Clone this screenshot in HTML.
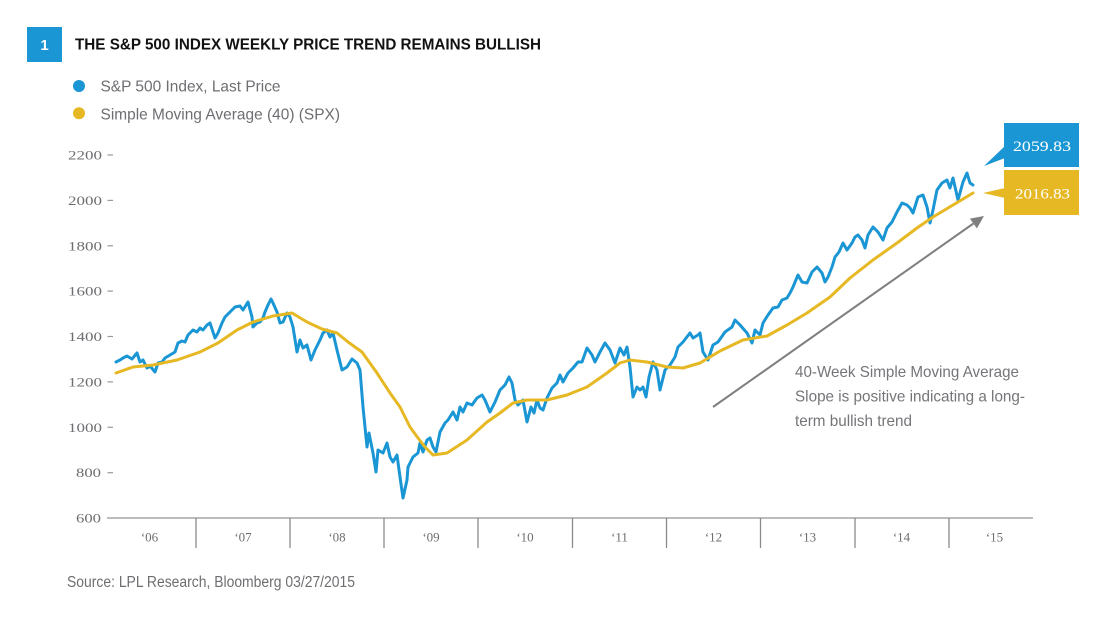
<!DOCTYPE html>
<html><head><meta charset="utf-8"><style>
html,body{margin:0;padding:0;background:#fff;}
svg{display:block;}
</style></head><body>
<svg width="1107" height="634" viewBox="0 0 1107 634" xmlns="http://www.w3.org/2000/svg">
<rect x="0" y="0" width="1107" height="634" fill="#ffffff"/>
<!-- header -->
<rect x="27" y="27" width="35" height="35" fill="#1a96d4"/>
<text x="44.5" y="50" text-anchor="middle" font-family="Liberation Sans, sans-serif" font-weight="bold" font-size="15" fill="#ffffff">1</text>
<text x="75" y="49.5" font-family="Liberation Sans, sans-serif" font-weight="bold" font-size="15.5" fill="#111111" textLength="466" lengthAdjust="spacingAndGlyphs">THE S&amp;P 500 INDEX WEEKLY PRICE TREND REMAINS BULLISH</text>
<!-- legend -->
<circle cx="79" cy="86" r="6" fill="#1a96d4"/>
<text x="100.5" y="91.7" font-family="Liberation Sans, sans-serif" font-size="16" fill="#6d6e71" textLength="180" lengthAdjust="spacingAndGlyphs">S&amp;P 500 Index, Last Price</text>
<circle cx="79" cy="113.3" r="6" fill="#e6b823"/>
<text x="100.5" y="119.3" font-family="Liberation Sans, sans-serif" font-size="16" fill="#6d6e71" textLength="239.5" lengthAdjust="spacingAndGlyphs">Simple Moving Average (40) (SPX)</text>
<!-- y axis labels -->
<g font-family="Liberation Serif, serif" font-size="12.5" fill="#6d6e71" text-anchor="end">
<text x="102" y="159.5" textLength="34" lengthAdjust="spacingAndGlyphs">2200</text>
<text x="102" y="204.9" textLength="34" lengthAdjust="spacingAndGlyphs">2000</text>
<text x="102" y="250.3" textLength="34" lengthAdjust="spacingAndGlyphs">1800</text>
<text x="102" y="295.6" textLength="34" lengthAdjust="spacingAndGlyphs">1600</text>
<text x="102" y="341" textLength="34" lengthAdjust="spacingAndGlyphs">1400</text>
<text x="102" y="386.4" textLength="34" lengthAdjust="spacingAndGlyphs">1200</text>
<text x="102" y="431.8" textLength="34" lengthAdjust="spacingAndGlyphs">1000</text>
<text x="101" y="477.2" textLength="25" lengthAdjust="spacingAndGlyphs">800</text>
<text x="101" y="522.5" textLength="25" lengthAdjust="spacingAndGlyphs">600</text>
</g>
<g stroke="#9a9a9a" stroke-width="1.2">
<line x1="107.5" y1="155" x2="113" y2="155"/>
<line x1="107.5" y1="200.4" x2="113" y2="200.4"/>
<line x1="107.5" y1="245.8" x2="113" y2="245.8"/>
<line x1="107.5" y1="291.1" x2="113" y2="291.1"/>
<line x1="107.5" y1="336.5" x2="113" y2="336.5"/>
<line x1="107.5" y1="381.9" x2="113" y2="381.9"/>
<line x1="107.5" y1="427.3" x2="113" y2="427.3"/>
<line x1="107.5" y1="472.7" x2="113" y2="472.7"/>
</g>
<!-- x axis -->
<line x1="107" y1="518" x2="1033" y2="518" stroke="#a6a6a6" stroke-width="1.5"/>
<g stroke="#8a8a8a" stroke-width="1.3">
<line x1="196" y1="518" x2="196" y2="548"/>
<line x1="290" y1="518" x2="290" y2="548"/>
<line x1="384" y1="518" x2="384" y2="548"/>
<line x1="478" y1="518" x2="478" y2="548"/>
<line x1="572.5" y1="518" x2="572.5" y2="548"/>
<line x1="666.5" y1="518" x2="666.5" y2="548"/>
<line x1="760.5" y1="518" x2="760.5" y2="548"/>
<line x1="855" y1="518" x2="855" y2="548"/>
<line x1="949" y1="518" x2="949" y2="548"/>
</g>
<g font-family="Liberation Serif, serif" font-size="13" fill="#6d6e71" text-anchor="middle">
<text x="149.5" y="541.5">‘06</text>
<text x="243" y="541.5">‘07</text>
<text x="337" y="541.5">‘08</text>
<text x="431" y="541.5">‘09</text>
<text x="525" y="541.5">‘10</text>
<text x="619.5" y="541.5">‘11</text>
<text x="713.5" y="541.5">‘12</text>
<text x="807.5" y="541.5">‘13</text>
<text x="901.5" y="541.5">‘14</text>
<text x="994.5" y="541.5">‘15</text>
</g>
<!-- series -->
<polyline fill="none" stroke="#1a96d4" stroke-width="3" stroke-linejoin="round" stroke-linecap="round" points="116,362 120,360 123,358 127,356 132,359 137,353 140,362 143,360 147,368 150,366 155,372 158,363 162,362 165,358 170,355 175,352 178,343 182,341 185,342 188,335 193,330 197,332 200,328 203,330 207,325 210,323 215,338 218,333 222,323 225,317 230,312 235,307 240,306 243,310 248,302 252,317 253,327 257,323 260,322 263,318 265,312 268,305 271,299 273,303 277,312 280,323 283,322 287,313 290,317 293,327 297,352 300,340 303,348 307,345 311,360 315,350 320,340 323,333 327,330 330,337 333,333 337,350 342,370 347,367 352,359 357,363 360,370 363,407 367,447 369,433 373,453 376,472 378,450 383,453 387,443 390,457 393,462 397,455 400,477 403,498 407,480 408,467 413,457 418,453 420,443 423,452 427,440 430,438 433,447 436,452 440,432 445,423 448,420 453,412 457,420 460,407 463,412 467,403 472,405 477,398 482,395 485,400 490,412 495,402 500,390 505,385 509,377 512,383 515,400 518,405 523,400 527,422 531,407 534,413 537,400 540,408 543,410 547,398 552,388 557,383 560,375 563,382 568,373 573,368 578,362 582,362 587,348 592,355 595,362 600,352 605,343 610,350 615,363 620,348 624,355 627,347 630,367 633,397 637,387 640,390 643,387 646,397 649,377 653,362 657,370 660,390 665,370 670,365 675,357 678,347 683,342 690,333 693,338 698,335 700,333 703,352 708,360 713,345 718,342 725,332 732,327 735,320 740,325 747,333 752,343 755,330 760,335 763,323 768,315 773,308 778,307 782,300 787,298 790,293 793,287 798,275 802,282 807,283 812,272 817,267 822,273 825,282 828,277 832,267 835,257 839,252 843,243 847,250 852,243 855,237 858,235 862,240 865,248 868,235 873,227 878,232 883,240 887,228 892,222 897,212 902,203 907,205 910,208 913,213 918,197 923,195 927,207 930,223 933,210 937,190 942,183 947,180 950,188 953,178 958,200 963,182 967,173 970,183 973,185"/>
<polyline fill="none" stroke="#e6b823" stroke-width="3" stroke-linejoin="round" stroke-linecap="round" points="116,373 133,367 153,365 177,360 200,352 218,343 237,330 253,322 273,316 292,313 307,322 322,329 337,333 348,342 362,352 377,373 390,393 400,407 410,427 418,438 425,447 433,455 447,453 467,440 487,422 500,413 513,403 527,400 547,400 567,395 587,387 607,373 620,363 630,360 647,362 667,367 683,368 700,363 720,351 743,340 767,336 787,325 807,313 830,297 850,278 873,260 897,243 917,228 933,217 953,205 973,193"/>
<!-- arrow -->
<line x1="713" y1="407" x2="973.4" y2="223.5" stroke="#7f7f7f" stroke-width="2"/>
<polygon points="984,216 976.9,228.4 969.9,218.6" fill="#7f7f7f"/>
<!-- annotation -->
<g font-family="Liberation Sans, sans-serif" font-size="16" fill="#747578">
<text x="795" y="377" textLength="224" lengthAdjust="spacingAndGlyphs">40-Week Simple Moving Average</text>
<text x="795" y="401.5" textLength="230" lengthAdjust="spacingAndGlyphs">Slope is positive indicating a long-</text>
<text x="795" y="426" textLength="117" lengthAdjust="spacingAndGlyphs">term bullish trend</text>
</g>
<!-- callouts -->
<polygon points="984,166 1005,146 1005,158" fill="#1a96d4"/>
<rect x="1004" y="123" width="75" height="44" fill="#1a96d4"/>
<text x="1042" y="151" text-anchor="middle" font-family="Liberation Serif, serif" font-size="15" fill="#ffffff" textLength="58" lengthAdjust="spacingAndGlyphs">2059.83</text>
<polygon points="983,193 1005,188 1005,198" fill="#e6b823"/>
<rect x="1004" y="170" width="75" height="45" fill="#e6b823"/>
<text x="1042.5" y="198.5" text-anchor="middle" font-family="Liberation Serif, serif" font-size="15" fill="#ffffff" textLength="55" lengthAdjust="spacingAndGlyphs">2016.83</text>
<!-- source -->
<text x="67" y="587" font-family="Liberation Sans, sans-serif" font-size="15.5" fill="#6d6e71" textLength="288" lengthAdjust="spacingAndGlyphs">Source: LPL Research, Bloomberg  03/27/2015</text>
</svg>
</body></html>
